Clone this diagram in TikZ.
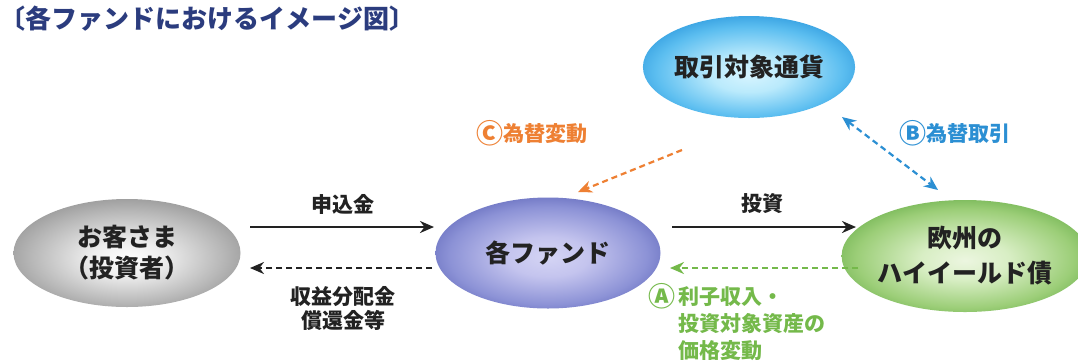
\documentclass[tikz,border=0pt]{standalone}
\usepackage{fontspec}
\newfontfamily\cjk{Noto Sans CJK JP}
\usetikzlibrary{shapes.geometric,arrows.meta}
\definecolor{titleblue}{HTML}{2B3C7E}
\definecolor{corange}{HTML}{EE8033}
\definecolor{bblue}{HTML}{2B8FD3}
\definecolor{agreen}{HTML}{74B94A}
\definecolor{ink}{HTML}{222222}
\newcommand{\circl}[1]{{\fontsize{27}{24}\selectfont\raisebox{-1.5pt}{#1}}}
\pgfdeclareradialshading{greyball}{\pgfpoint{0bp}{-3bp}}{color(0bp)=(white); color(8bp)=(white!93!black); color(21bp)=(white!72!black); color(31bp)=(white!55!black); color(35bp)=(white!45!black); color(50bp)=(white!45!black)}
\pgfdeclareradialshading{blueball}{\pgfpoint{0bp}{-2bp}}{color(0bp)=({rgb,255:red,212;green,212;blue,244}); color(9bp)=({rgb,255:red,196;green,196;blue,238}); color(22bp)=({rgb,255:red,140;green,146;blue,214}); color(31bp)=({rgb,255:red,90;green,98;blue,182}); color(35bp)=({rgb,255:red,70;green,78;blue,165}); color(50bp)=({rgb,255:red,70;green,78;blue,165})}
\pgfdeclareradialshading{cyanball}{\pgfpoint{0bp}{-4bp}}{color(0bp)=({rgb,255:red,214;green,244;blue,255}); color(9bp)=({rgb,255:red,186;green,234;blue,252}); color(22bp)=({rgb,255:red,92;green,190;blue,240}); color(31bp)=({rgb,255:red,36;green,146;blue,218}); color(35bp)=({rgb,255:red,26;green,128;blue,204}); color(50bp)=({rgb,255:red,26;green,128;blue,204})}
\pgfdeclareradialshading{greenball}{\pgfpoint{0bp}{-2bp}}{color(0bp)=({rgb,255:red,236;green,246;blue,224}); color(9bp)=({rgb,255:red,216;green,238;blue,196}); color(22bp)=({rgb,255:red,156;green,206;blue,120}); color(31bp)=({rgb,255:red,98;green,170;blue,68}); color(35bp)=({rgb,255:red,80;green,152;blue,52}); color(50bp)=({rgb,255:red,80;green,152;blue,52})}
\tikzset{
  blob/.style={ellipse, inner sep=0pt, font=\cjk\bfseries\fontsize{25}{31}\selectfont, text=ink, align=center},
  lbl/.style={font=\cjk\bfseries\fontsize{21}{24}\selectfont, align=left},
  arr/.style={line width=2.4pt, -{Stealth[length=14pt,width=12pt]}},
  darr/.style={line width=2.2pt, dash pattern=on 6pt off 4pt, -{Stealth[length=14pt,width=12pt]}},
}
\begin{document}
\begin{tikzpicture}[x=1pt,y=-1pt]
\useasboundingbox (0,0) rectangle (1078,360);
\fill[white] (0,0) rectangle (1078,360);
\node[anchor=west, font=\cjk\bfseries\fontsize{26}{30}\selectfont, text=titleblue] (title) at (-4,19) {〔各ファンドにおけるイメージ図〕};
\node[blob, minimum width=227pt, minimum height=108pt, shading=greyball] (cust) at (127,253) {お客さま\\（投資者）};
\node[blob, minimum width=225pt, minimum height=111pt, shading=blueball] (fund) at (548,253) {各ファンド};
\node[blob, minimum width=208pt, minimum height=102pt, shading=cyanball] (curr) at (749,67) {取引対象通貨};
\node[blob, minimum width=220pt, minimum height=112pt, shading=greenball, font=\cjk\bfseries\fontsize{25}{35}\selectfont] (bond) at (965,256) {欧州の\\ハイイールド債};
% arrows
\coordinate (s1) at (250,227); \coordinate (e1) at (434,227);
\draw[arr, ink] (s1) -- (e1);
\node[lbl, text=ink] (l1) at (343,204) {申込金};
\coordinate (s2) at (432,268); \coordinate (e2) at (250,268);
\draw[darr, ink] (s2) -- (e2);
\node[lbl, text=ink, align=center, font=\cjk\bfseries\fontsize{21}{24}\selectfont] (l2) at (343,308) {収益分配金\\償還金等};
\coordinate (s3) at (672,227); \coordinate (e3) at (856,227);
\draw[arr, ink] (s3) -- (e3);
\node[lbl, text=ink] (l3) at (762,204) {投資};
\coordinate (s4) at (858,268); \coordinate (e4) at (670,268);
\draw[darr, agreen] (s4) -- (e4);
\node[lbl, text=agreen, anchor=north west, inner sep=0pt, font=\cjk\bfseries\fontsize{21}{24.5}\selectfont] (l4) at (648,283) {\circl{Ⓐ}\,利子収入・\\\phantom{\circl{Ⓐ}\,}投資対象資産の\\\phantom{\circl{Ⓐ}\,}価格変動};
\coordinate (s5) at (682,150); \coordinate (e5) at (578,192);
\draw[darr, corange] (s5) -- (e5);
\node[lbl, text=corange] (l5) at (532,133) {\circl{Ⓒ}為替変動};
\coordinate (s6) at (842,117); \coordinate (e6) at (938,190);
\draw[darr, bblue, {Stealth[length=14pt,width=12pt]}-{Stealth[length=14pt,width=12pt]}] (s6) -- (e6);
\node[lbl, text=bblue] (l6) at (955,133) {\circl{Ⓑ}為替取引};
\end{tikzpicture}
\end{document}
